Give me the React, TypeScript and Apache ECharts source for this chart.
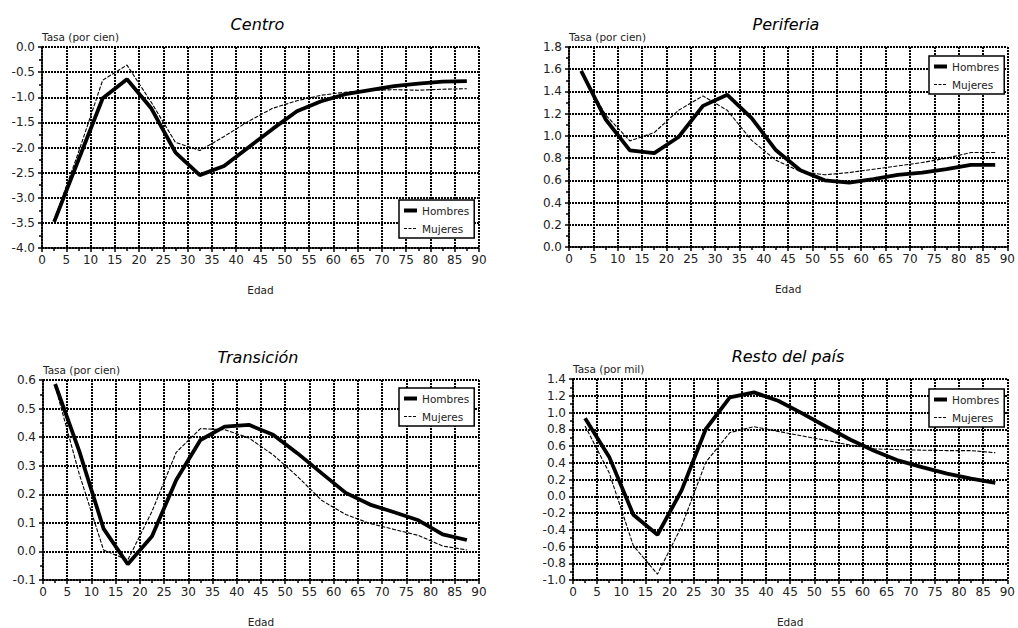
import React, { useEffect, useRef } from "react";
import * as echarts from "echarts";

const edades = [2.5, 7.5, 12.5, 17.5, 22.5, 27.5, 32.5, 37.5, 42.5, 47.5, 52.5, 57.5, 62.5, 67.5, 72.5, 77.5, 82.5, 87.5];

const centroHombres = [-3.48, -2.25, -1.02, -0.64, -1.22, -2.1, -2.55, -2.37, -2.0, -1.63, -1.28, -1.08, -0.94, -0.86, -0.78, -0.73, -0.69, -0.68];
const centroMujeres = [-3.45, -2.1, -0.66, -0.36, -1.1, -1.9, -2.06, -1.78, -1.48, -1.22, -1.07, -0.96, -0.9, -0.86, -0.85, -0.86, -0.84, -0.83];

const periferiaHombres = [1.585, 1.15, 0.87, 0.845, 0.99, 1.27, 1.37, 1.16, 0.87, 0.69, 0.6, 0.58, 0.61, 0.65, 0.67, 0.7, 0.74, 0.74];
const periferiaMujeres = [1.57, 1.19, 0.955, 1.03, 1.23, 1.36, 1.23, 0.96, 0.78, 0.68, 0.65, 0.67, 0.7, 0.73, 0.76, 0.8, 0.85, 0.85];

const transicionHombres = [0.586, 0.35, 0.08, -0.045, 0.053, 0.25, 0.39, 0.437, 0.443, 0.408, 0.344, 0.274, 0.205, 0.164, 0.137, 0.109, 0.06, 0.04];
const transicionMujeres = [0.58, 0.27, 0.005, -0.03, 0.14, 0.347, 0.43, 0.426, 0.397, 0.338, 0.263, 0.179, 0.129, 0.098, 0.077, 0.056, 0.019, 0.005];

const restoHombres = [0.93, 0.47, -0.22, -0.46, 0.07, 0.8, 1.18, 1.24, 1.14, 0.99, 0.83, 0.675, 0.54, 0.425, 0.345, 0.27, 0.21, 0.16];
const restoMujeres = [0.84, 0.28, -0.59, -0.93, -0.36, 0.405, 0.76, 0.83, 0.775, 0.72, 0.667, 0.61, 0.565, 0.556, 0.55, 0.545, 0.545, 0.52];

const titulos = ["Centro", "Periferia", "Transición", "Resto del país"];
const unidades = ["Tasa (por cien)", "Tasa (por cien)", "Tasa (por cien)", "Tasa (por mil)"];
const yMin = [-4, 0, -0.1, -1];
const yMax = [0, 1.8, 0.6, 1.4];
const yStep = [0.5, 0.2, 0.1, 0.2];

const FONT = "DejaVu Sans";

const grids = [
  { left: 42, top: 47, width: 437, height: 201 },
  { left: 569, top: 47, width: 440, height: 200 },
  { left: 43, top: 380, width: 436, height: 201 },
  { left: 573, top: 379, width: 436, height: 202 },
];
const legendPos = [
  { left: 399, top: 200 },
  { left: 929, top: 56 },
  { left: 399, top: 388 },
  { left: 929, top: 389 },
];

export default function App() {
  const ref = useRef<HTMLDivElement>(null);
  useEffect(() => {
    document.body.style.margin = "0";
    if (!ref.current) return;
    const chart = echarts.init(ref.current, undefined, { renderer: "svg" });
    const hombres = [centroHombres, periferiaHombres, transicionHombres, restoHombres];
    const mujeres = [centroMujeres, periferiaMujeres, transicionMujeres, restoMujeres];
    const gridLine = { show: true, lineStyle: { color: "#000", width: 2, type: [2, 1] as any } };
    const option: any = {
      animation: false,
      backgroundColor: "#fff",
      textStyle: { fontFamily: FONT },
      title: titulos.map((t, i) => ({
        text: t,
        left: grids[i].left + grids[i].width / 2 - 8,
        top: grids[i].top - 36,
        textAlign: "center",
        textStyle: { fontFamily: FONT, fontStyle: "italic", fontWeight: "normal", fontSize: 16, color: "#000" },
      })),
      grid: grids.map((g) => ({ ...g, containLabel: false })),
      legend: legendPos.map((p) => ({
        left: p.left,
        top: p.top,
        orient: "vertical",
        itemWidth: 13,
        itemHeight: 8,
        itemGap: 7,
        padding: [5, 5, 4, 3],
        borderColor: "#000",
        borderWidth: 1.5,
        backgroundColor: "#fff",
        textStyle: { fontFamily: FONT, fontSize: 10.5, color: "#222" },
        data: [
          { name: "Hombres", itemStyle: { opacity: 0 }, lineStyle: { width: 4, color: "#000" } },
          { name: "Mujeres", itemStyle: { opacity: 0 }, lineStyle: { width: 1.2, color: "#000", type: [3, 1.5] } },
        ],
      })),
      xAxis: grids.map((_, i) => ({
        type: "value",
        gridIndex: i,
        min: 0,
        max: 90,
        interval: 5,
        name: "Edad",
        nameLocation: "middle",
        nameGap: 36,
        nameTextStyle: { fontFamily: FONT, fontSize: 10.5, color: "#222" },
        axisLine: { show: true, onZero: false, lineStyle: { color: "#000", width: 1.5 } },
        axisTick: { show: true, length: 4, lineStyle: { color: "#000", width: 1.5 } },
        minorTick: { show: true, splitNumber: 2, length: 3, lineStyle: { color: "#000", width: 1.5 } },
        axisLabel: { fontFamily: FONT, fontSize: 12, color: "#222", margin: 6 },
        splitLine: gridLine,
      })),
      yAxis: grids.map((_, i) => ({
        type: "value",
        gridIndex: i,
        min: yMin[i],
        max: yMax[i],
        interval: yStep[i],
        name: unidades[i],
        nameLocation: "end",
        nameGap: 5,
        nameTextStyle: { fontFamily: FONT, fontSize: 10.5, color: "#222", align: "left" },
        axisLine: { show: true, onZero: false, lineStyle: { color: "#000", width: 1.5 } },
        axisTick: { show: true, length: 4, lineStyle: { color: "#000", width: 1.5 } },
        minorTick: { show: true, splitNumber: 2, length: 3, lineStyle: { color: "#000", width: 1.5 } },
        axisLabel: { fontFamily: FONT, fontSize: 12, color: "#222", margin: 7, formatter: (v: number) => v.toFixed(1) },
        splitLine: gridLine,
      })),
      series: [0, 1, 2, 3].flatMap((i) => [
        {
          name: "Mujeres",
          type: "line",
          xAxisIndex: i,
          yAxisIndex: i,
          data: edades.map((x, k) => [x, mujeres[i][k]]),
          symbol: "none",
          lineStyle: { color: "#000", width: 1.1, type: [4, 1.5] },
          itemStyle: { color: "#000" },
          z: 3,
        },
        {
          name: "Hombres",
          type: "line",
          xAxisIndex: i,
          yAxisIndex: i,
          data: edades.map((x, k) => [x, hombres[i][k]]),
          symbol: "none",
          lineStyle: { color: "#000", width: 3.8 },
          itemStyle: { color: "#000" },
          z: 4,
        },
      ]),
    };
    chart.setOption(option);
    return () => chart.dispose();
  }, []);
  return <div ref={ref} style={{ width: 1018, height: 628 }} />;
}
